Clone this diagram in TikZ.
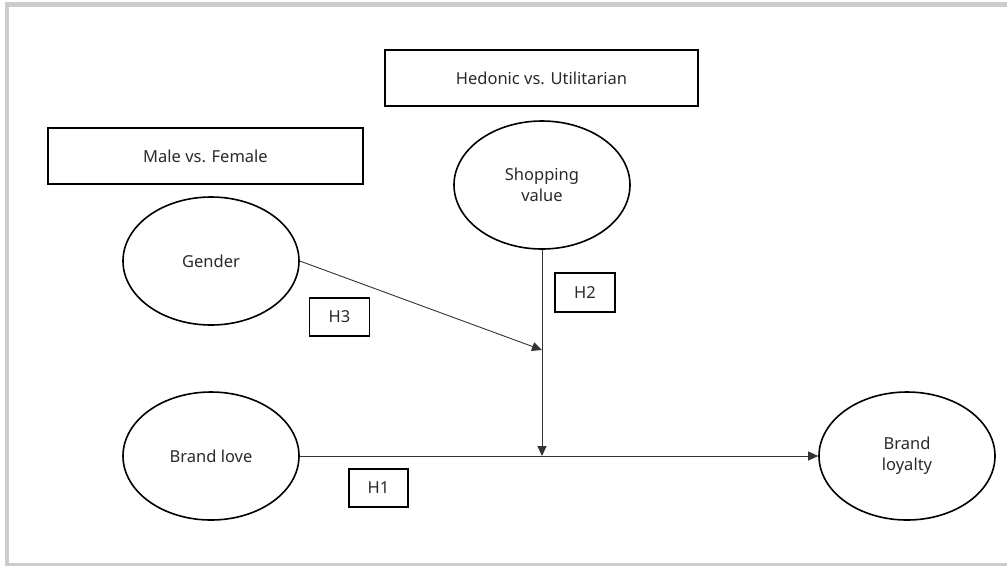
\documentclass[tikz,border=0pt]{standalone}
\usepackage{fontspec}
\setmainfont{Noto Sans}
\usetikzlibrary{shapes.geometric,arrows.meta}
\definecolor{framegray}{HTML}{CCCCCC}
\definecolor{txt}{HTML}{2A2A2A}
\tikzset{
  ell/.style={ellipse,draw=black,line width=1.6pt,minimum width=176pt,minimum height=128pt,inner sep=0pt,align=center,text=txt,font=\fontsize{16.5}{21}\selectfont},
  lbox/.style={rectangle,draw=black,line width=1.6pt,inner sep=0pt,text=txt,font=\fontsize{16.5}{21}\selectfont},
  conn/.style={draw=black!80,line width=0.9pt,-{Triangle[length=10pt,width=9pt]}},
  plain/.style={draw=black!80,line width=0.9pt}
}
\begin{document}
\begin{tikzpicture}[x=1pt,y=-1pt]
\useasboundingbox (0,0) rectangle (1007,566);
\fill[white] (0,0) rectangle (1007,566);
% frame
\fill[framegray] (5,2) rectangle (9,566);
\fill[framegray] (5,2) rectangle (1007,7);
\fill[framegray] (5,563) rectangle (1007,566);
% boxes
\node[lbox,minimum width=315pt,minimum height=56pt] (mf) at (205.5,156) {Male vs. Female};
\node[lbox,minimum width=313pt,minimum height=56pt] (hu) at (541.5,78) {Hedonic vs. Utilitarian};
% ellipses
\node[ell] (sv) at (542,185) {Shopping\\value};
\node[ell] (g) at (211,261) {Gender};
\node[ell] (bl) at (211,456) {Brand love};
\node[ell] (by) at (907,456) {Brand\\loyalty};
% hypothesis labels
\node[lbox,minimum width=60pt,minimum height=38pt] (h3) at (339.5,317) {H3};
\node[lbox,minimum width=60pt,minimum height=39pt] (h2) at (585,292.5) {H2};
\node[lbox,minimum width=59pt,minimum height=38pt] (h1) at (378.5,488) {H1};
% connectors
\coordinate (j1) at (542,456);
\coordinate (j2) at (542,350);
\draw[conn] (bl.east) -- (by.west);
\draw[conn] (sv.south) -- (j1);
\draw[conn] (g.east) -- (j2);
\end{tikzpicture}
\end{document}
